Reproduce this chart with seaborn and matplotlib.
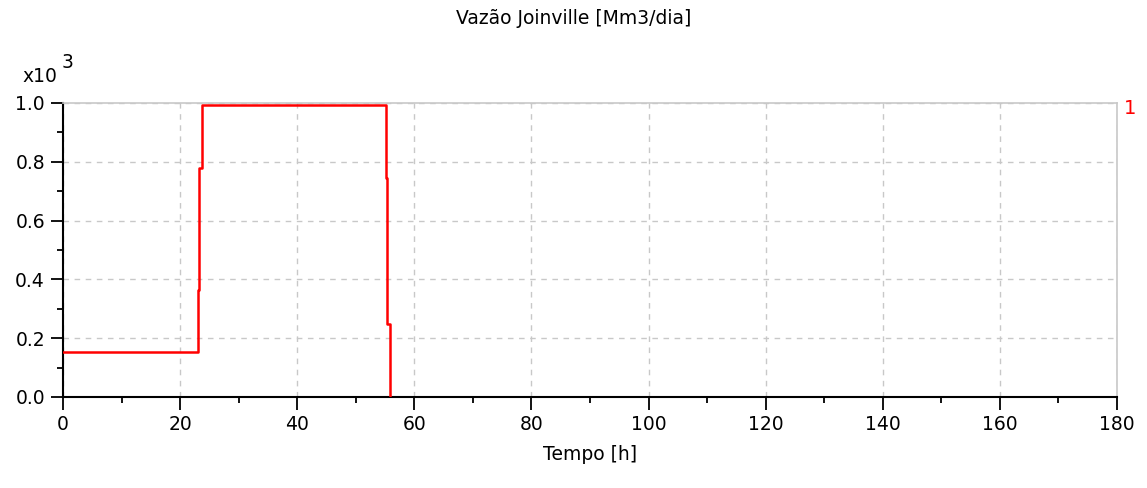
import matplotlib
matplotlib.use("Agg")
import matplotlib.pyplot as plt
import pandas as pd
import seaborn as sns
from matplotlib.ticker import MultipleLocator

# Data (values in units of 10^3 Mm3/dia)
tempo = [0.0, 23.0, 23.3, 23.7, 55.2, 55.4, 55.9]
vazao = [0.153, 0.364, 0.78, 0.993, 0.744, 0.25, 0.0]
x_ticks = [0, 20, 40, 60, 80, 100, 120, 140, 160, 180]
y_ticks = [0.0, 0.2, 0.4, 0.6, 0.8, 1.0]

df = pd.DataFrame({"Tempo": tempo, "Vazao": vazao})

sns.set_style("white")
plt.rcParams["font.family"] = ["DejaVu Sans"]
plt.rcParams["text.color"] = "black"
plt.rcParams["axes.labelcolor"] = "black"
plt.rcParams["xtick.color"] = "black"
plt.rcParams["ytick.color"] = "black"

fig = plt.figure(figsize=(11.47, 4.88), dpi=100)
ax = fig.add_axes([63 / 1147, 1 - 397 / 488, (1117 - 63) / 1147, (397 - 103) / 488])

sns.lineplot(data=df, x="Tempo", y="Vazao", ax=ax, color="#ff0000",
             linewidth=1.8, drawstyle="steps-post", zorder=3)

ax.set_xlim(0, 180)
ax.set_ylim(0, 1.0)
ax.set_xticks(x_ticks)
ax.set_yticks(y_ticks)
ax.set_yticklabels([f"{v:.1f}" for v in y_ticks])
ax.xaxis.set_minor_locator(MultipleLocator(10))
ax.yaxis.set_minor_locator(MultipleLocator(0.1))
ax.tick_params(which="major", direction="out", length=9, width=1.3,
               labelsize=13.5, pad=4, left=True, bottom=True)
ax.tick_params(which="minor", direction="out", length=4.5, width=1.3,
               left=True, bottom=True)

ax.grid(True, which="major", color="#c8c8c8", linestyle=(0, (4, 4)), linewidth=1)
ax.set_axisbelow(True)

for s in ["left", "bottom"]:
    ax.spines[s].set_color("black")
    ax.spines[s].set_linewidth(1.5)
for s in ["top", "right"]:
    ax.spines[s].set_color("#c8c8c8")
    ax.spines[s].set_linewidth(1.2)

ax.set_xlabel("Tempo [h]", fontsize=13.5, labelpad=8)
ax.set_ylabel("")
fig.text(0.5, 1 - 18 / 488, "Vazão Joinville [Mm3/dia]", ha="center", va="center", fontsize=13.5)
fig.text(22 / 1147, 1 - 77 / 488, "x10", ha="left", va="center", fontsize=13.5)
fig.text(62 / 1147, 1 - 62 / 488, "3", ha="left", va="center", fontsize=13.5)
fig.text(1124 / 1147, 1 - 108 / 488, "1", color="#ff0000", fontsize=14,
         ha="left", va="center")

fig.savefig("out.png", dpi=100)
